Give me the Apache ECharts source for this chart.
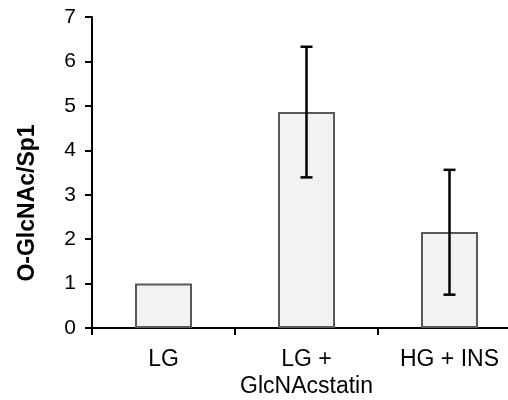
<!DOCTYPE html>
<html>
<head>
<meta charset="utf-8">
<script src="https://cdn.jsdelivr.net/npm/echarts@6/dist/echarts.min.js"></script>
<style>
  html, body { margin: 0; padding: 0; background: #fff; overflow: hidden; }
  /* the original picture cuts the x axis a little past the right edge */
  #chart { width: 521px; height: 400px; }
</style>
</head>
<body>
<div id="chart"></div>
<script>
// data
const categories = ['LG', 'LG +\nGlcNAcstatin', 'HG + INS'];
const means = [1.0, 4.86, 2.16];
const errLow = [1.0, 3.39, 0.75];
const errHigh = [1.0, 6.33, 3.56];
const yTicks = [0, 1, 2, 3, 4, 5, 6, 7];

const chart = echarts.init(document.getElementById('chart'));

const font = '"Liberation Sans", Arial, sans-serif';

const option = {
  backgroundColor: '#ffffff',
  animation: false,
  grid: {
    left: 92,
    right: 0,
    top: 17,
    bottom: 72
  },
  xAxis: {
    type: 'category',
    data: categories,
    axisLine: { lineStyle: { color: '#000', width: 2 } },
    axisTick: { show: true, length: 7, lineStyle: { color: '#000', width: 2 } },
    axisLabel: {
      color: '#000',
      fontFamily: font,
      fontSize: 23,
      lineHeight: 27,
      margin: 18,
      interval: 0
    }
  },
  yAxis: {
    type: 'value',
    min: yTicks[0],
    max: yTicks[yTicks.length - 1],
    interval: 1,
    axisLine: { show: true, lineStyle: { color: '#000', width: 2 } },
    axisTick: { show: true, length: 7, lineStyle: { color: '#000', width: 2 } },
    splitLine: { show: false },
    axisLabel: {
      color: '#000',
      fontFamily: font,
      fontSize: 21,
      margin: 16
    }
  },
  graphic: [{
    type: 'text',
    x: 28,
    y: 203,
    rotation: Math.PI / 2,
    style: {
      text: 'O-GlcNAc/Sp1',
      font: 'bold 23px ' + font,
      fill: '#000',
      textAlign: 'center',
      textVerticalAlign: 'middle'
    }
  }],
  series: [
    {
      type: 'bar',
      data: means,
      barWidth: 57,
      itemStyle: {
        color: '#f2f2f2',
        borderColor: '#595959',
        borderWidth: 2
      }
    },
    {
      type: 'custom',
      data: categories.map((c, i) => [i, errLow[i], errHigh[i]]),
      renderItem: function (params, api) {
        const lo = api.coord([api.value(0), api.value(1)]);
        const hi = api.coord([api.value(0), api.value(2)]);
        if (Math.abs(hi[1] - lo[1]) < 1) return;
        const w = 6;
        const st = { stroke: '#000', lineWidth: 2.5 };
        return {
          type: 'group',
          children: [
            { type: 'line', shape: { x1: lo[0], y1: lo[1], x2: hi[0], y2: hi[1] }, style: st },
            { type: 'line', shape: { x1: hi[0] - w, y1: hi[1], x2: hi[0] + w, y2: hi[1] }, style: st },
            { type: 'line', shape: { x1: lo[0] - w, y1: lo[1], x2: lo[0] + w, y2: lo[1] }, style: st }
          ]
        };
      },
      z: 10
    }
  ]
};

chart.setOption(option);
</script>
</body>
</html>
